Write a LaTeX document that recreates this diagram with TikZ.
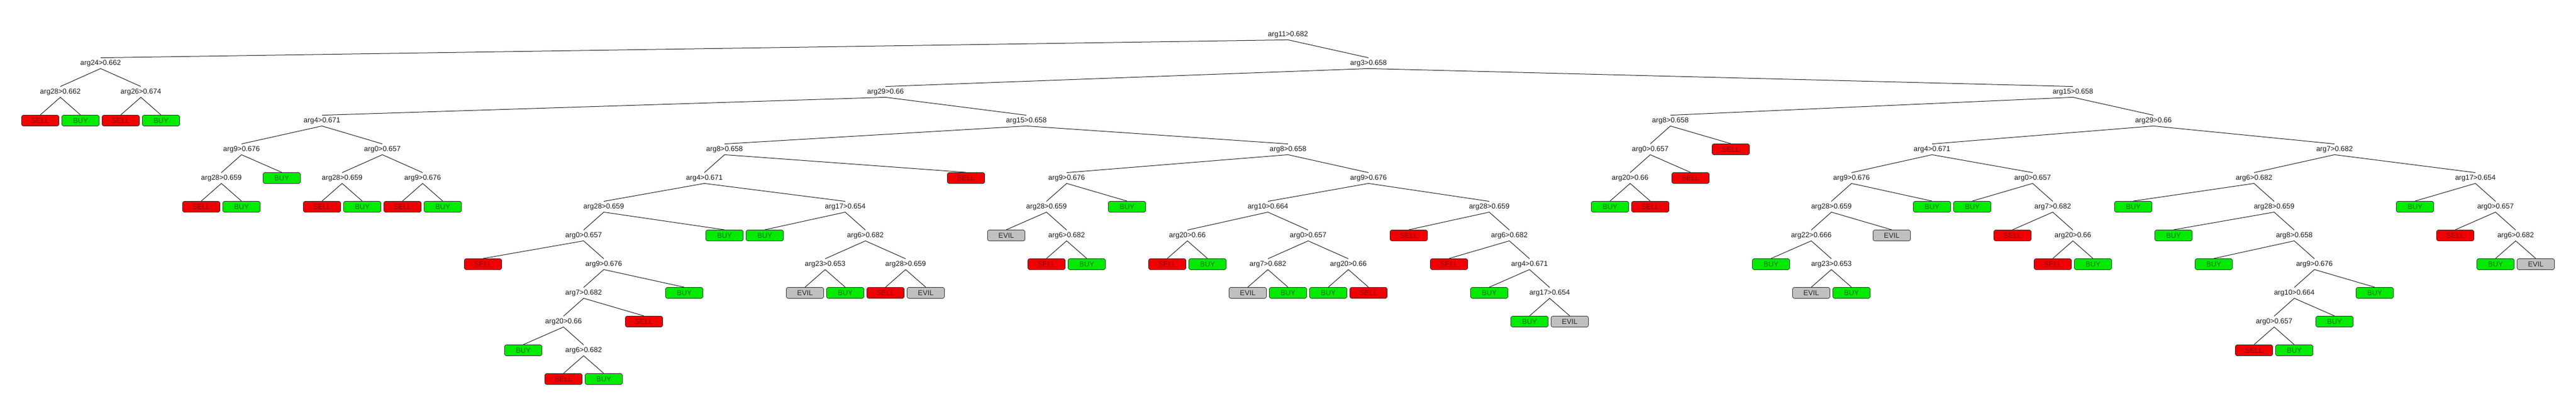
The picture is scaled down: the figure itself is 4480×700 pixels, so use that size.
\documentclass[tikz,border=0pt]{standalone}
\usepackage{fontspec}
\setmainfont{Liberation Sans}
\definecolor{sellfill}{RGB}{240,0,0}
\definecolor{buyfill}{RGB}{0,235,0}
\definecolor{evilfill}{RGB}{192,192,192}
\definecolor{selltext}{RGB}{140,0,0}
\definecolor{buytext}{RGB}{0,110,0}
\definecolor{eviltext}{RGB}{40,40,40}
\definecolor{edgecol}{RGB}{40,40,40}
\tikzset{
  lab/.style={inner sep=0pt, minimum height=9pt, text=black!90, font=\fontsize{6.25}{7}\selectfont},
  leafbox/.style={draw=black!80, line width=0.4pt, rounded corners=1.6pt, inner sep=0pt,
    minimum width=32.5pt, minimum height=9.5pt, font=\fontsize{6.25}{7}\selectfont},
  sell/.style={leafbox, fill=sellfill, text=selltext},
  buy/.style={leafbox, fill=buyfill, text=buytext},
  evil/.style={leafbox, fill=evilfill, text=eviltext},
  edge/.style={draw=edgecol, line width=0.5pt}
}
\newcommand\tnode[4]{\node[lab] (#1) at ({#2},{60+50*#3}) {#4};}
\newcommand\tleaf[4]{\node[#4] (#1) at ({#2},{60+50*#3}) {\MakeUppercase{#4}};}
\begin{document}
\begin{tikzpicture}[x=0.5pt,y=-0.5pt]
\useasboundingbox[fill=white] (0,0) rectangle (4480,700);
% internal nodes
\tnode{R}{2240}{0}{arg11>0.682}
\tnode{A}{175}{1}{arg24>0.662}
\tnode{A1}{105}{2}{arg28>0.662}
\tnode{A2}{245}{2}{arg26>0.674}
\tnode{B}{2380}{1}{arg3>0.658}
\tnode{B1}{1540}{2}{arg29>0.66}
\tnode{C}{560}{3}{arg4>0.671}
\tnode{C1}{420}{4}{arg9>0.676}
\tnode{C11}{385}{5}{arg28>0.659}
\tnode{C2}{665}{4}{arg0>0.657}
\tnode{C21}{595}{5}{arg28>0.659}
\tnode{C22}{735}{5}{arg9>0.676}
\tnode{D}{1785}{3}{arg15>0.658}
\tnode{E}{1260}{4}{arg8>0.658}
\tnode{E1}{1225}{5}{arg4>0.671}
\tnode{E11}{1050}{6}{arg28>0.659}
\tnode{E111}{1015}{7}{arg0>0.657}
\tnode{E1111}{1050}{8}{arg9>0.676}
\tnode{E11111}{1015}{9}{arg7>0.682}
\tnode{E111111}{980}{10}{arg20>0.66}
\tnode{E1111111}{1015}{11}{arg6>0.682}
\tnode{E12}{1470}{6}{arg17>0.654}
\tnode{E121}{1505}{7}{arg6>0.682}
\tnode{E1211}{1435}{8}{arg23>0.653}
\tnode{E1212}{1575}{8}{arg28>0.659}
\tnode{F}{2240}{4}{arg8>0.658}
\tnode{F1}{1855}{5}{arg9>0.676}
\tnode{F11}{1820}{6}{arg28>0.659}
\tnode{F111}{1855}{7}{arg6>0.682}
\tnode{F2}{2380}{5}{arg9>0.676}
\tnode{F21}{2205}{6}{arg10>0.664}
\tnode{F211}{2065}{7}{arg20>0.66}
\tnode{F212}{2275}{7}{arg0>0.657}
\tnode{F2121}{2205}{8}{arg7>0.682}
\tnode{F2122}{2345}{8}{arg20>0.66}
\tnode{F22}{2590}{6}{arg28>0.659}
\tnode{F221}{2625}{7}{arg6>0.682}
\tnode{F2211}{2660}{8}{arg4>0.671}
\tnode{F22111}{2695}{9}{arg17>0.654}
\tnode{G}{3605}{2}{arg15>0.658}
\tnode{H}{2905}{3}{arg8>0.658}
\tnode{H1}{2870}{4}{arg0>0.657}
\tnode{H11}{2835}{5}{arg20>0.66}
\tnode{I}{3745}{3}{arg29>0.66}
\tnode{J}{3360}{4}{arg4>0.671}
\tnode{J1}{3220}{5}{arg9>0.676}
\tnode{J11}{3185}{6}{arg28>0.659}
\tnode{J111}{3150}{7}{arg22>0.666}
\tnode{J1111}{3185}{8}{arg23>0.653}
\tnode{J2}{3535}{5}{arg0>0.657}
\tnode{J21}{3570}{6}{arg7>0.682}
\tnode{J211}{3605}{7}{arg20>0.66}
\tnode{K}{4060}{4}{arg7>0.682}
\tnode{K1}{3920}{5}{arg6>0.682}
\tnode{K11}{3955}{6}{arg28>0.659}
\tnode{K111}{3990}{7}{arg8>0.658}
\tnode{K1111}{4025}{8}{arg9>0.676}
\tnode{K11111}{3990}{9}{arg10>0.664}
\tnode{K111111}{3955}{10}{arg0>0.657}
\tnode{K2}{4305}{5}{arg17>0.654}
\tnode{K21}{4340}{6}{arg0>0.657}
\tnode{K211}{4375}{7}{arg6>0.682}
% leaves
\tleaf{L1}{70}{3}{sell}
\tleaf{L2}{140}{3}{buy}
\tleaf{L3}{210}{3}{sell}
\tleaf{L4}{280}{3}{buy}
\tleaf{L5}{350}{6}{sell}
\tleaf{L6}{420}{6}{buy}
\tleaf{L7}{490}{5}{buy}
\tleaf{L8}{560}{6}{sell}
\tleaf{L9}{630}{6}{buy}
\tleaf{L10}{700}{6}{sell}
\tleaf{L11}{770}{6}{buy}
\tleaf{L12}{840}{8}{sell}
\tleaf{L13}{910}{11}{buy}
\tleaf{L14}{980}{12}{sell}
\tleaf{L15}{1050}{12}{buy}
\tleaf{L16}{1120}{10}{sell}
\tleaf{L17}{1190}{9}{buy}
\tleaf{L18}{1260}{7}{buy}
\tleaf{L19}{1330}{7}{buy}
\tleaf{L20}{1400}{9}{evil}
\tleaf{L21}{1470}{9}{buy}
\tleaf{L22}{1540}{9}{sell}
\tleaf{L23}{1610}{9}{evil}
\tleaf{L24}{1680}{5}{sell}
\tleaf{L25}{1750}{7}{evil}
\tleaf{L26}{1820}{8}{sell}
\tleaf{L27}{1890}{8}{buy}
\tleaf{L28}{1960}{6}{buy}
\tleaf{L29}{2030}{8}{sell}
\tleaf{L30}{2100}{8}{buy}
\tleaf{L31}{2170}{9}{evil}
\tleaf{L32}{2240}{9}{buy}
\tleaf{L33}{2310}{9}{buy}
\tleaf{L34}{2380}{9}{sell}
\tleaf{L35}{2450}{7}{sell}
\tleaf{L36}{2520}{8}{sell}
\tleaf{L37}{2590}{9}{buy}
\tleaf{L38}{2660}{10}{buy}
\tleaf{L39}{2730}{10}{evil}
\tleaf{L40}{2800}{6}{buy}
\tleaf{L41}{2870}{6}{sell}
\tleaf{L42}{2940}{5}{sell}
\tleaf{L43}{3010}{4}{sell}
\tleaf{L44}{3080}{8}{buy}
\tleaf{L45}{3150}{9}{evil}
\tleaf{L46}{3220}{9}{buy}
\tleaf{L47}{3290}{7}{evil}
\tleaf{L48}{3360}{6}{buy}
\tleaf{L49}{3430}{6}{buy}
\tleaf{L50}{3500}{7}{sell}
\tleaf{L51}{3570}{8}{sell}
\tleaf{L52}{3640}{8}{buy}
\tleaf{L53}{3710}{6}{buy}
\tleaf{L54}{3780}{7}{buy}
\tleaf{L55}{3850}{8}{buy}
\tleaf{L56}{3920}{11}{sell}
\tleaf{L57}{3990}{11}{buy}
\tleaf{L58}{4060}{10}{buy}
\tleaf{L59}{4130}{9}{buy}
\tleaf{L60}{4200}{6}{buy}
\tleaf{L61}{4270}{7}{sell}
\tleaf{L62}{4340}{8}{buy}
\tleaf{L63}{4410}{8}{evil}
% edges
\foreach \p/\c in {R/A,R/B,A/A1,A/A2,A1/L1,A1/L2,A2/L3,A2/L4,
  B/B1,B/G,B1/C,B1/D,C/C1,C/C2,C1/C11,C1/L7,C11/L5,C11/L6,C2/C21,C2/C22,
  C21/L8,C21/L9,C22/L10,C22/L11,
  D/E,D/F,E/E1,E/L24,E1/E11,E1/E12,E11/E111,E11/L18,E111/L12,E111/E1111,
  E1111/E11111,E1111/L17,E11111/E111111,E11111/L16,E111111/L13,E111111/E1111111,
  E1111111/L14,E1111111/L15,E12/L19,E12/E121,E121/E1211,E121/E1212,
  E1211/L20,E1211/L21,E1212/L22,E1212/L23,
  F/F1,F/F2,F1/F11,F1/L28,F11/L25,F11/F111,F111/L26,F111/L27,
  F2/F21,F2/F22,F21/F211,F21/F212,F211/L29,F211/L30,F212/F2121,F212/F2122,
  F2121/L31,F2121/L32,F2122/L33,F2122/L34,F22/L35,F22/F221,F221/L36,F221/F2211,
  F2211/L37,F2211/F22111,F22111/L38,F22111/L39,
  G/H,G/I,H/H1,H/L43,H1/H11,H1/L42,H11/L40,H11/L41,
  I/J,I/K,J/J1,J/J2,J1/J11,J1/L48,J11/J111,J11/L47,J111/L44,J111/J1111,
  J1111/L45,J1111/L46,J2/L49,J2/J21,J21/L50,J21/J211,J211/L51,J211/L52,
  K/K1,K/K2,K1/L53,K1/K11,K11/L54,K11/K111,K111/L55,K111/K1111,
  K1111/K11111,K1111/L59,K11111/K111111,K11111/L58,K111111/L56,K111111/L57,
  K2/L60,K2/K21,K21/L61,K21/K211,K211/L62,K211/L63}
  \draw[edge] (\p.south) -- (\c.north);
\end{tikzpicture}
\end{document}
